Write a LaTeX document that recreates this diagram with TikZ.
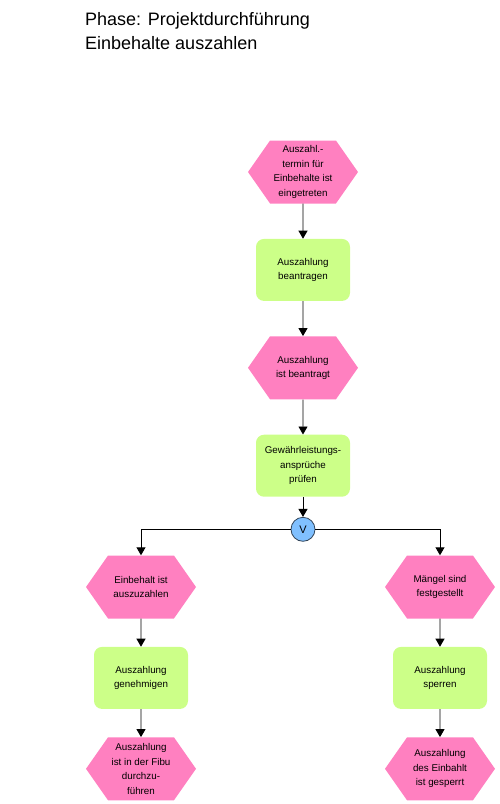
\documentclass[tikz,border=0pt]{standalone}
\usepackage{fontspec}
\setmainfont{Liberation Sans}
\usetikzlibrary{arrows.meta, positioning, shapes.symbols}
\definecolor{eventpink}{HTML}{FF80C0}
\definecolor{funcgreen}{HTML}{CCFF88}
\definecolor{xorblue}{HTML}{80C0FF}
\definecolor{slate}{HTML}{34465A}
\tikzset{
	event/.style={signal, signal to=west and east, signal pointer angle=110,
		fill=eventpink, minimum width=110pt, minimum height=63pt,
		inner sep=0pt, align=center, font=\fontsize{9.8}{14.5}\selectfont},
	func/.style={rectangle, rounded corners=8pt, fill=funcgreen,
		minimum width=94pt, minimum height=62pt,
		inner sep=0pt, align=center, font=\fontsize{9.8}{14.5}\selectfont},
	gate/.style={circle, draw=slate, line width=0.8pt, fill=xorblue,
		minimum size=24pt, inner sep=0pt, font=\fontsize{11}{11}\selectfont},
	arr/.style={-{Triangle[length=8pt, width=9pt]}, line width=0.9pt},
}

\begin{document}
\begin{tikzpicture}[x=1pt, y=-1pt]
		\useasboundingbox (0,0) rectangle (500,804);

		\node[anchor=north west, inner sep=0pt, align=left, font=\fontsize{18}{24}\selectfont]
		(title) at (85,12.5) {Phase: Projektdurchführung\\Einbehalte auszahlen};

		% main column
		\node[event] (termin) at (303,172) {Auszahl.-\\termin für\\Einbehalte ist\\eingetreten};
		\node[func, below=35pt of termin] (beantragen) {Auszahlung\\beantragen};
		\node[event, below=35pt of beantragen] (beantragt) {Auszahlung\\ist beantragt};
		\node[func, below=35pt of beantragt] (pruefen) {Gewährleistungs-\\ansprüche\\prüfen};
		\node[gate, below=20pt of pruefen] (xor) {V};

		% left branch
		\node[event] (einbehalt) at (141,587) {Einbehalt ist\\auszuzahlen};
		\node[func, below=28pt of einbehalt] (genehmigen) {Auszahlung\\genehmigen};
		\node[event, below=28pt of genehmigen] (fibu) {Auszahlung\\ist in der Fibu\\durchzu-\\führen};

		% right branch
		\node[event] (maengel) at (440,587) {Mängel sind\\festgestellt};
		\node[func, below=28pt of maengel] (sperren) {Auszahlung\\sperren};
		\node[event, below=28pt of sperren] (gesperrt) {Auszahlung\\des Einbahlt\\ist gesperrt};

		\draw[arr] (termin) -- (beantragen);
		\draw[arr] (beantragen) -- (beantragt);
		\draw[arr] (beantragt) -- (pruefen);
		\draw[arr] (pruefen) -- (xor);
		\draw[arr] (xor.west) -| (einbehalt.north);
		\draw[arr] (xor.east) -| (maengel.north);
		\draw[arr] (einbehalt) -- (genehmigen);
		\draw[arr] (genehmigen) -- (fibu);
		\draw[arr] (maengel) -- (sperren);
		\draw[arr] (sperren) -- (gesperrt);
	\end{tikzpicture}
\end{document}
